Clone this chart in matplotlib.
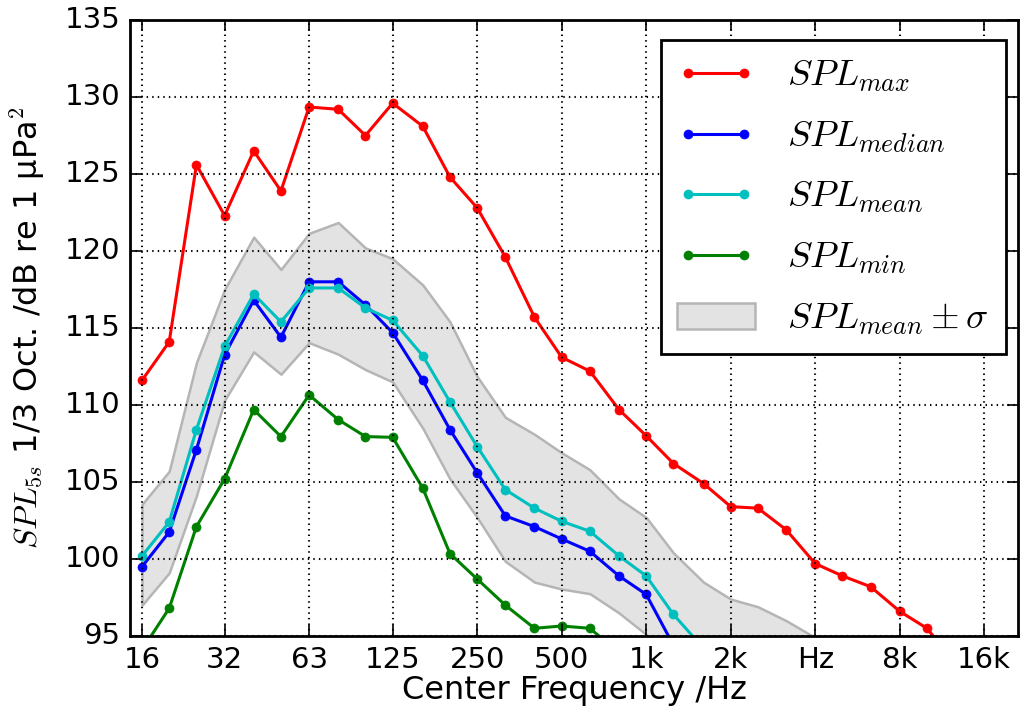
import matplotlib
matplotlib.use('Agg')
import matplotlib.pyplot as plt
import numpy as np

# third-octave band centre frequencies /Hz
freqs = [16, 20, 25, 31.5, 40, 50, 63, 80, 100, 125, 160, 200, 250, 315, 400,
         500, 630, 800, 1000, 1250, 1600, 2000, 2500, 3150, 4000, 5000, 6300,
         8000, 10000, 12500]

spl_max = [111.6, 114.1, 125.6, 122.3, 126.5, 123.9, 129.35, 129.2, 127.5, 129.6,
           128.1, 124.8, 122.8, 119.6, 115.7, 113.1, 112.2, 109.7, 108.0, 106.2,
           104.9, 103.4, 103.3, 101.9, 99.7, 98.9, 98.2, 96.6, 95.5, 93.3]
spl_median = [99.5, 101.75, 107.1, 113.25, 116.8, 114.4, 118.0, 118.0, 116.5, 114.7,
              111.6, 108.4, 105.6, 102.8, 102.1, 101.3, 100.5, 98.9, 97.7, 94.4]
spl_mean = [100.2, 102.4, 108.4, 113.8, 117.2, 115.4, 117.6, 117.6, 116.3, 115.5,
            113.2, 110.2, 107.3, 104.5, 103.3, 102.45, 101.8, 100.2, 98.9, 96.4,
            94.2]
spl_min = [94.1, 96.8, 102.1, 105.2, 109.7, 107.95, 110.65, 109.05, 107.95, 107.9,
           104.6, 100.35, 98.7, 97.0, 95.5, 95.65, 95.5, 93.9]

# mean +/- sigma band edges
band_upper = [103.55, 105.7, 112.75, 117.5, 120.9, 118.8, 121.15, 121.85, 120.2, 119.5,
              117.8, 115.4, 111.85, 109.2, 108.1, 106.9, 105.8, 103.9, 102.7, 100.4,
              98.5, 97.4, 96.9, 96.0, 94.9]
band_lower = [97.0, 99.1, 104.1, 110.3, 113.45, 112.0, 114.05, 113.3, 112.3, 111.5,
              108.5, 105.2, 102.7, 99.85, 98.5, 98.05, 97.75, 96.5, 95.1, 92.4,
              89.9, 88.5, 87.5, 87.0, 86.5]

tick_freqs = [16, 31.5, 63, 125, 250, 500, 1000, 2000, 4000, 8000, 16000]
tick_labels = ['16', '32', '63', '125', '250', '500', '1k', '2k', 'Hz', '8k', '16k']

plt.style.use('classic')
plt.rcParams['figure.facecolor'] = 'white'
plt.rcParams['savefig.facecolor'] = 'white'
plt.rcParams['mathtext.fontset'] = 'cm'
plt.rcParams['font.family'] = ['DejaVu Sans']

fig = plt.figure(figsize=(10.24, 7.2), dpi=100)
ax = fig.add_axes([130 / 1024, 1 - 636 / 720, 888 / 1024, 616 / 720])

ax.fill_between(freqs[:len(band_upper)], band_lower, band_upper,
                facecolor='#e3e3e3', edgecolor='#b5b5b5', linewidth=1.8,
                label=r'$SPL_{mean}\pm\sigma$')

style = dict(marker='o', markersize=6.5, linewidth=2.2)
ax.plot(freqs[:len(spl_max)], spl_max, color='r', mec='r', label=r'$SPL_{max}$', **style)
ax.plot(freqs[:len(spl_median)], spl_median, color='b', mec='b', label=r'$SPL_{median}$', **style)
ax.plot(freqs[:len(spl_mean)], spl_mean, color='c', mec='c', label=r'$SPL_{mean}$', **style)
ax.plot(freqs[:len(spl_min)], spl_min, color='g', mec='g', label=r'$SPL_{min}$', **style)

ax.set_xscale('log')
ax.set_xlim(14.5, 21100)
ax.set_ylim(95, 135)
ax.set_xticks(tick_freqs)
ax.set_xticklabels(tick_labels)
ax.xaxis.set_minor_locator(matplotlib.ticker.NullLocator())
ax.set_yticks(np.arange(95, 136, 5))
ax.tick_params(labelsize=21, length=8, width=1.2, pad=7)
ax.grid(True, color='k', linestyle=':', linewidth=1.5)
for sp in ax.spines.values():
    sp.set_linewidth(2)

ax.set_xlabel('Center Frequency /Hz', fontsize=23)
ax.xaxis.set_label_coords(0.5, -0.063)
ax.set_ylabel(r'$SPL_{5s}$ 1/3 Oct. /dB re 1 µPa$^2$', fontsize=23)
ax.yaxis.set_label_coords(-0.094, 0.5)

handles, labels = ax.get_legend_handles_labels()
order = [1, 2, 3, 4, 0]
leg = ax.legend([handles[i] for i in order], [labels[i] for i in order],
                loc='upper right', bbox_to_anchor=(0.986, 0.9675), borderaxespad=0,
                fontsize=26.5, numpoints=2, handlelength=2.12, labelspacing=0.64,
                borderpad=0.45, handletextpad=0.87)
leg.get_frame().set_linewidth(2)

fig.savefig('out.png', dpi=100)
